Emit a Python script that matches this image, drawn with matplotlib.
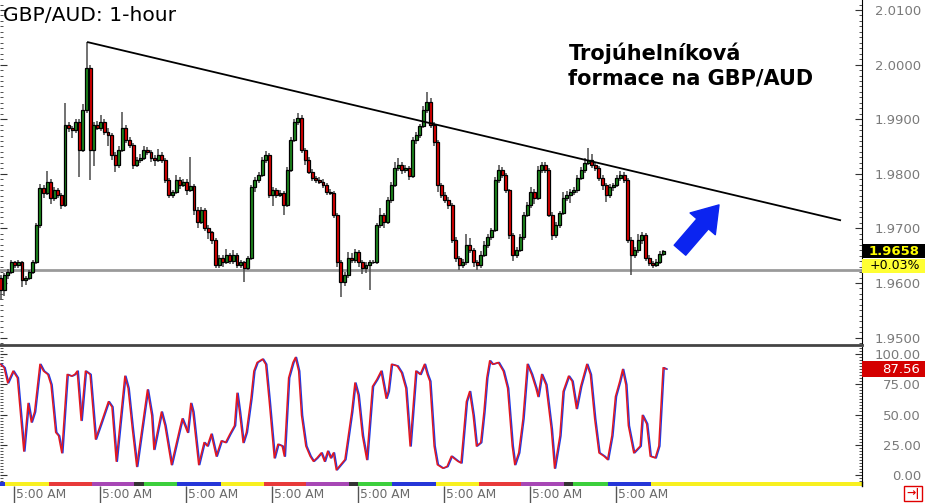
import numpy as np
import matplotlib
matplotlib.use('Agg')
import matplotlib.pyplot as plt
import matplotlib.transforms as mtransforms
from matplotlib.patches import Rectangle, FancyArrowPatch, ArrowStyle
from matplotlib.ticker import FixedLocator, MultipleLocator

# hourly closes, one row per day (24 candles)
closes = [
    1.9587, 1.9615, 1.9620, 1.9638, 1.9633, 1.9638, 1.9605, 1.9609, 1.9620, 1.9638, 1.9706, 1.9774,
    1.9765, 1.9785, 1.9756, 1.9770, 1.9761, 1.9743, 1.9889, 1.9884, 1.9880, 1.9895, 1.9844, 1.9917,
    1.9994, 1.9844, 1.9889, 1.9884, 1.9895, 1.9877, 1.9871, 1.9834, 1.9816, 1.9844, 1.9884, 1.9862,
    1.9853, 1.9816, 1.9825, 1.9829, 1.9844, 1.9840, 1.9829, 1.9825, 1.9834, 1.9825, 1.9789, 1.9761,
    1.9767, 1.9789, 1.9779, 1.9785, 1.9770, 1.9777, 1.9734, 1.9712, 1.9734, 1.9701, 1.9693, 1.9679,
    1.9633, 1.9646, 1.9638, 1.9651, 1.9640, 1.9651, 1.9633, 1.9638, 1.9627, 1.9646, 1.9776, 1.9789,
    1.9798, 1.9825, 1.9834, 1.9761, 1.9770, 1.9761, 1.9765, 1.9743, 1.9807, 1.9862, 1.9895, 1.9902,
    1.9844, 1.9825, 1.9803, 1.9792, 1.9789, 1.9785, 1.9779, 1.9767, 1.9765, 1.9725, 1.9638, 1.9602,
    1.9615, 1.9646, 1.9642, 1.9657, 1.9638, 1.9627, 1.9633, 1.9638, 1.9638, 1.9706, 1.9725, 1.9712,
    1.9752, 1.9779, 1.9811, 1.9816, 1.9807, 1.9811, 1.9796, 1.9862, 1.9871, 1.9887, 1.9917, 1.9932,
    1.9889, 1.9858, 1.9779, 1.9761, 1.9752, 1.9743, 1.9679, 1.9646, 1.9633, 1.9638, 1.9670, 1.9660,
    1.9638, 1.9633, 1.9651, 1.9670, 1.9684, 1.9697, 1.9789, 1.9807, 1.9798, 1.9770, 1.9688, 1.9651,
    1.9660, 1.9684, 1.9725, 1.9743, 1.9767, 1.9756, 1.9807, 1.9816, 1.9807, 1.9725, 1.9688, 1.9706,
    1.9728, 1.9756, 1.9761, 1.9767, 1.9770, 1.9792, 1.9807, 1.9820, 1.9825, 1.9816, 1.9811, 1.9792,
    1.9779, 1.9761, 1.9775, 1.9779, 1.9792, 1.9798, 1.9789, 1.9679, 1.9651, 1.9660, 1.9679, 1.9688,
    1.9646, 1.9637, 1.9633, 1.9638, 1.9653, 1.9658,
]
first_open = 1.9610

# wick lengths above / below the body, in pips
wick_up = [
    5, 4, 6, 5, 3, 4, 3, 4, 3, 5, 4, 8, 5, 20, 6, 5, 4, 3, 40, 5, 4, 6, 5, 10,
    47, 6, 6, 8, 12, 5, 6, 4, 5, 6, 29, 6, 5, 4, 5, 8, 6, 5, 4, 6, 12, 5, 4, 3,
    4, 8, 5, 6, 5, 53, 4, 5, 6, 4, 5, 3, 4, 6, 5, 12, 4, 10, 4, 5, 3, 4, 4, 6,
    5, 6, 8, 4, 5, 4, 5, 3, 6, 5, 6, 9, 5, 4, 5, 6, 4, 5, 6, 4, 5, 3, 4, 5,
    6, 10, 8, 6, 4, 5, 6, 4, 5, 4, 12, 4, 5, 6, 10, 12, 6, 5, 4, 5, 6, 5, 8, 18,
    6, 5, 4, 5, 6, 5, 4, 5, 4, 6, 20, 12, 4, 5, 8, 6, 5, 4, 6, 10, 5, 4, 3, 4,
    5, 6, 5, 6, 8, 5, 8, 6, 5, 4, 5, 6, 4, 10, 8, 5, 6, 5, 6, 8, 22, 12, 5, 4,
    5, 4, 6, 5, 6, 8, 5, 4, 5, 6, 10, 6, 4, 5, 4, 6, 5, 3,
]
wick_dn = [
    18, 10, 8, 4, 6, 5, 12, 8, 4, 3, 3, 5, 10, 4, 12, 6, 5, 8, 4, 8, 15, 6, 50, 4,
    5, 55, 30, 4, 5, 6, 20, 8, 12, 5, 4, 5, 6, 8, 4, 5, 4, 6, 8, 10, 4, 6, 5, 6,
    5, 4, 6, 4, 8, 4, 10, 12, 4, 6, 12, 8, 6, 5, 8, 4, 6, 5, 5, 6, 25, 3, 3, 10,
    6, 4, 5, 6, 20, 6, 4, 18, 4, 4, 4, 5, 6, 8, 4, 5, 6, 4, 5, 6, 4, 6, 8, 28,
    8, 5, 6, 5, 8, 10, 8, 45, 4, 3, 5, 12, 4, 5, 4, 5, 8, 6, 8, 4, 8, 6, 4, 5,
    6, 8, 12, 6, 5, 8, 6, 8, 10, 5, 5, 6, 8, 10, 5, 4, 6, 5, 4, 5, 6, 5, 8, 10,
    6, 4, 6, 4, 5, 12, 4, 5, 6, 5, 10, 5, 6, 4, 5, 15, 5, 6, 4, 5, 4, 6, 5, 6,
    8, 12, 5, 6, 4, 5, 6, 6, 36, 5, 5, 8, 6, 6, 5, 4, 4, 3,
]

# stochastic oscillator (hour index, value)
stoch_hour = [
    0, 1.0, 2.0, 3.5, 4.7, 5.7, 6.5, 7.7, 8.6, 9.5, 11.0, 12.0, 13.2, 14.1, 15.4, 16.2,
    17.1, 18.6, 19.8, 20.7, 21.4, 22.5, 23.7, 25.0, 26.5, 28.0, 30.1, 31.1, 32.3, 34.7,
    35.6, 36.8, 38.0, 41.0, 42.2, 42.8, 44.9, 45.9, 47.7, 50.1, 50.7, 52.2, 53.1, 53.7,
    55.3, 56.8, 57.7, 58.8, 60.2, 61.6, 62.8, 64.0, 65.3, 66.0, 66.7, 67.7, 68.6, 69.9,
    70.7, 71.6, 73.1, 74.0, 75.0, 76.4, 77.4, 78.6, 79.2, 80.4, 81.6, 82.3, 83.2, 84.0,
    85.2, 86.4, 87.3, 88.3, 89.5, 90.4, 91.3, 92.1, 92.9, 93.7, 94.9, 96.1, 98.0, 98.9,
    99.8, 101.0, 102.2, 103.8, 105.0, 106.2, 107.6, 108.2, 109.1, 110.7, 111.9, 113.1,
    114.3, 115.9, 117.1, 118.3, 119.1, 119.8, 121.0, 121.9, 123.4, 124.6, 125.8, 127.6,
    128.5, 130.0, 130.9, 131.9, 132.8, 134.0, 134.9, 135.7, 136.5, 137.3, 138.9, 140.3,
    141.5, 142.8, 143.5, 144.6, 145.8, 147.0, 148.2, 149.4, 150.0, 151.0, 152.2, 153.7,
    154.6, 156.1, 157.0, 158.5, 159.5, 160.7, 161.9, 163.6, 164.6, 165.8, 167.0, 168.4,
    169.4, 170.6, 171.6, 172.8, 173.6, 174.5, 175.2, 176.7, 178.5, 179.1, 180.3, 181.3,
    182.7, 183.7, 184.9, 185.7,
]
stoch_val = [
    91.5, 88.7, 76.1, 85.9, 80.3, 46.5, 19.7, 59.2, 43.7, 52.1, 91.5, 85.9, 83.1, 74.6, 35.2, 32.4,
    18.3, 83.1, 81.7, 83.1, 85.9, 45.1, 85.9, 83.1, 29.6, 42.3, 60.6, 56.3, 11.3, 81.7,
    71.8, 38.0, 7.0, 70.4, 49.3, 21.1, 52.1, 40.8, 8.5, 39.4, 46.5, 35.2, 59.2, 52.1,
    8.5, 26.8, 23.9, 33.8, 15.5, 28.2, 26.8, 33.8, 40.8, 67.6, 52.1, 26.8, 35.2, 63.4,
    85.9, 93.0, 95.8, 91.5, 60.6, 14.1, 25.4, 23.9, 15.5, 80.3, 93.0, 97.2, 85.9, 49.3,
    23.9, 15.5, 11.3, 14.1, 18.3, 11.3, 19.7, 14.1, 18.3, 4.2, 8.5, 12.7, 52.1, 76.1,
    66.2, 32.4, 12.7, 73.2, 78.9, 85.9, 63.4, 69.0, 91.5, 90.1, 84.5, 71.8,
    23.9, 85.9, 83.1, 91.5, 83.1, 77.5, 23.9, 8.5, 5.6, 7.0, 15.5, 11.3,
    9.9, 60.6, 69.0, 49.3, 23.9, 26.8, 52.1, 80.3, 94.4, 91.5, 93.0, 85.9,
    71.8, 23.9, 8.5, 18.3, 46.5, 91.5, 83.1, 71.8, 64.8, 83.1, 74.6, 38.0,
    5.6, 32.4, 69.0, 81.7, 77.5, 54.9, 73.2, 91.5, 83.1, 46.5, 18.3, 15.5,
    12.7, 32.4, 64.8, 77.5, 87.3, 74.6, 40.8, 18.3, 23.9, 49.3, 42.3, 15.5,
    14.1, 23.9, 88.7, 87.56,
]

trend_hours = [24.4, 234.3]
trend_prices = [2.0041, 1.9715]
support_price = 1.9624
last_price = 1.9658
last_change = '+0.03%'
last_stoch = 87.56

price_ticks = [1.95, 1.96, 1.97, 1.98, 1.99, 2.00, 2.01]
stoch_ticks = [0, 25, 50, 75, 100]
time_ticks = [3.8, 27.8, 51.8, 75.8, 99.8, 123.8, 147.8, 171.8]
time_label = '5:00 AM'

session_edges = [-0.2, 1.3, 13.5, 25.5, 37.3, 40.0, 49.3, 61.5, 73.5, 85.3, 97.3, 99.8,
                 109.3, 121.5, 133.5, 145.3, 157.3, 159.8, 169.5, 181.5, 240.5]
session_colors = ['#2536d8', '#f8f020', '#e83a3a', '#a747b5', '#333333', '#3ccf3c'] * 3 + ['#2536d8', '#f8f020']

W, H = 925, 503
XMIN, XMAX = -0.14, 240.4


def fx(px):
    return px / W


def fy(py):
    return 1 - py / H


fig = plt.figure(figsize=(W / 100, H / 100), dpi=100)
fig.patch.set_facecolor('white')

# ---------- price panel ----------
ax = fig.add_axes([0, fy(345), fx(862), 345 / H])
ax.set_xlim(XMIN, XMAX)
ax.set_ylim(1.94864, 2.01183)

closes_a = np.array(closes)
opens = np.concatenate([[first_open], closes_a[:-1]])
highs = np.maximum(opens, closes_a) + np.array(wick_up) * 1e-4
lows = np.minimum(opens, closes_a) - np.array(wick_dn) * 1e-4
hours = np.arange(len(closes_a))
rising = closes_a >= opens

ax.axhline(support_price, color='#9a9a9a', lw=2.0, zorder=1)
ax.vlines(hours, lows, highs, color='#4a4a4a', lw=1.1, zorder=2)
body = np.maximum(np.abs(closes_a - opens), 0.00008)
ax.bar(hours, body, bottom=np.minimum(opens, closes_a), width=0.82,
       color=np.where(rising, '#1d8a1d', '#e00000'), edgecolor='black', linewidth=0.9, zorder=3)

ax.plot(trend_hours, trend_prices, color='black', lw=1.3, zorder=4)

arrow = FancyArrowPatch((189.6, 1.9660), (200.5, 1.9743),
                        arrowstyle=ArrowStyle.Simple(head_length=18, head_width=24, tail_width=11),
                        mutation_scale=1, color='#0b24f0', shrinkA=0, shrinkB=0, zorder=5)
ax.add_patch(arrow)

for s in ['top', 'left']:
    ax.spines[s].set_visible(False)
ax.spines['right'].set_color('black')
ax.spines['bottom'].set_color('#444444')
ax.spines['bottom'].set_linewidth(2.0)
ax.set_xticks([])
ax.yaxis.set_major_locator(FixedLocator(price_ticks))
ax.yaxis.set_minor_locator(MultipleLocator(0.001))
ax.set_yticklabels(['%.4f' % p for p in price_ticks])
ax.tick_params(axis='y', which='both', direction='in', left=True, right=True,
               labelleft=False, labelright=True, colors='#333333')
ax.tick_params(axis='y', which='major', length=5, pad=42.5, labelsize=9.5, labelcolor='#7a7a7a')
ax.tick_params(axis='y', which='minor', length=2.5)
plt.setp(ax.get_yticklabels(), ha='right')

# last price tags
blend = mtransforms.blended_transform_factory(fig.transFigure, ax.transData)
ax.add_patch(Rectangle((fx(862), last_price - 0.00128), fx(63), 0.00256, transform=blend,
                       facecolor='black', edgecolor='none', clip_on=False, zorder=6))
ax.add_patch(Rectangle((fx(862), last_price - 0.00403), fx(63), 0.00270, transform=blend,
                       facecolor='#ffff33', edgecolor='none', clip_on=False, zorder=6))
ax.text(fx(920), last_price, '%.4f' % last_price, transform=blend, ha='right', va='center',
        color='#ffff00', fontsize=9.5, fontweight='bold', zorder=7, clip_on=False)
ax.text(fx(920), last_price - 0.00268, last_change, transform=blend, ha='right', va='center',
        color='black', fontsize=9, zorder=7, clip_on=False)

# ---------- stochastic panel ----------
ax2 = fig.add_axes([0, fy(482), fx(862), (482 - 347) / H])
ax2.set_xlim(XMIN, XMAX)
ax2.set_ylim(-5.8, 105.8)
sh = np.array(stoch_hour)
ax2.plot(sh + 0.3, stoch_val, color='#1e3be6', lw=1.1, zorder=2)
ax2.plot(sh, stoch_val, color='#e3171f', lw=1.1, zorder=3)
for s in ['top', 'left', 'bottom']:
    ax2.spines[s].set_visible(False)
ax2.spines['right'].set_color('black')
ax2.set_xticks([])
ax2.yaxis.set_major_locator(FixedLocator(stoch_ticks))
ax2.yaxis.set_minor_locator(MultipleLocator(2.5))
ax2.set_yticklabels(['%.2f' % v for v in stoch_ticks])
ax2.tick_params(axis='y', which='both', direction='in', left=True, right=True,
                labelleft=False, labelright=True, colors='#333333')
ax2.tick_params(axis='y', which='major', length=5, pad=42.5, labelsize=9.5, labelcolor='#7a7a7a')
ax2.tick_params(axis='y', which='minor', length=2)
plt.setp(ax2.get_yticklabels(), ha='right')

blend2 = mtransforms.blended_transform_factory(fig.transFigure, ax2.transData)
ax2.add_patch(Rectangle((fx(862), last_stoch - 6.6), fx(63), 13.2, transform=blend2,
                        facecolor='#d40000', edgecolor='none', clip_on=False, zorder=6))
ax2.text(fx(920), last_stoch, '%.2f' % last_stoch, transform=blend2, ha='right', va='center',
         color='white', fontsize=9.5, zorder=7, clip_on=False)

# ---------- session colour strip and time axis ----------
ax3 = fig.add_axes([0, fy(486), fx(862), 4 / H])
ax3.set_xlim(XMIN, XMAX)
ax3.set_ylim(0, 1)
for a, b, c in zip(session_edges[:-1], session_edges[1:], session_colors):
    ax3.axvspan(a, b, color=c, lw=0)
for s in ax3.spines.values():
    s.set_visible(False)
ax3.set_yticks([])
ax3.set_xticks(time_ticks)
ax3.set_xticklabels([])
ax3.tick_params(axis='x', direction='out', length=12, width=1.0, color='#555555')
blend3 = mtransforms.blended_transform_factory(ax3.transData, fig.transFigure)
for t in time_ticks:
    ax3.text(t + 0.6, fy(495), time_label, transform=blend3, ha='left', va='center',
             fontsize=8.8, color='#6a6a6a', clip_on=False)

# right axis line continues to bottom
fig.add_artist(plt.Line2D([fx(862), fx(862)], [fy(486), fy(482)], color='black', lw=1))

# bottom-right scroll button
fig.add_artist(Rectangle((fx(904), fy(501)), fx(18), 15 / H, facecolor='white',
                         edgecolor='#e00000', lw=1.0))
fig.text(fx(913), fy(493.5), '→|', ha='center', va='center', color='#e00000',
         fontsize=8, fontweight='bold')

# ---------- titles ----------
fig.text(fx(3), fy(21), 'GBP/AUD: 1-hour', fontsize=14.6, color='black', va='baseline')
fig.text(fx(569), fy(60), 'Trojúhelníková', fontsize=15, fontweight='bold', va='baseline')
fig.text(fx(568), fy(84), 'formace na GBP/AUD', fontsize=15, fontweight='bold', va='baseline')

fig.savefig('out.png', dpi=100)
